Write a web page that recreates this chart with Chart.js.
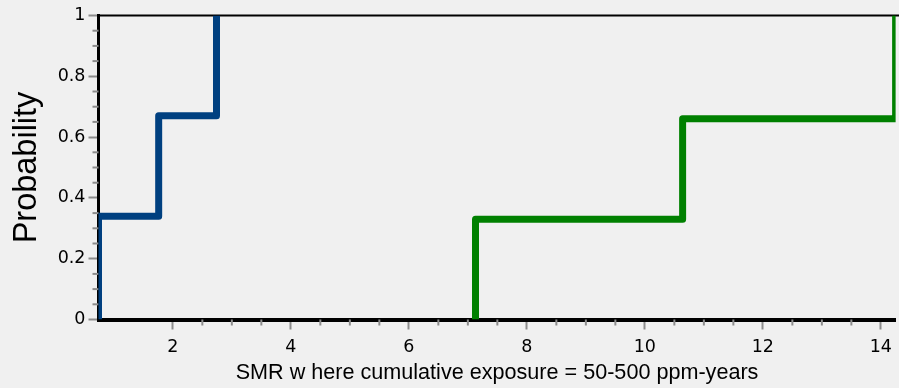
<!DOCTYPE html>
<html>
<head>
<meta charset="utf-8">
<script src="https://cdn.jsdelivr.net/npm/chart.js@4/dist/chart.umd.min.js"></script>
<style>
  html, body { margin: 0; padding: 0; background: #f0f0f0; }
  canvas { display: block; }
</style>
</head>
<body>
<canvas id="c" width="899" height="388"></canvas>
<script>
// Empirical step distributions of the SMR (cumulative probability)
const blueSteps = [0.74, 1.76, 2.74];
const blueProb = [0.34, 0.67, 1.0];
const greenSteps = [7.13, 10.64, 14.25];
const greenProb = [0.33, 0.66, 1.0];

// Axis ticks
const xTickValues = [2, 4, 6, 8, 10, 12, 14];
const yTickValues = [0, 0.2, 0.4, 0.6, 0.8, 1];
const xRange = [0.74, 14.25];
const yRange = [0, 1];

// Turn step positions and cumulative probabilities into a staircase
function staircase(steps, probs) {
  const pts = [{ x: steps[0], y: 0 }];
  for (let i = 0; i < steps.length; i++) {
    const prev = i === 0 ? 0 : probs[i - 1];
    if (i > 0) pts.push({ x: steps[i], y: prev });
    pts.push({ x: steps[i], y: probs[i] });
    if (i < steps.length - 1) pts.push({ x: steps[i + 1], y: probs[i] });
  }
  return pts;
}

const FONT = "'Liberation Sans', Arial, sans-serif";
const TICK_FONT = "'DejaVu Sans', Verdana, sans-serif";
const TICK_GRAY = '#8c8c8c';

// Background, top frame line and minor tick marks
const framePlugin = {
  id: 'frame',
  beforeDraw(chart) {
    const { ctx, width, height } = chart;
    ctx.save();
    ctx.fillStyle = '#f0f0f0';
    ctx.fillRect(0, 0, width, height);
    ctx.restore();
  },
  beforeDatasetsDraw(chart) {
    const { ctx, chartArea, scales } = chart;
    ctx.save();
    ctx.strokeStyle = TICK_GRAY;
    ctx.lineWidth = 2;
    // minor ticks on x: 3 between each pair of major ticks
    for (let i = 0; i < xTickValues.length - 1; i++) {
      const a = xTickValues[i], b = xTickValues[i + 1];
      for (let k = 1; k < 4; k++) {
        const px = scales.x.getPixelForValue(a + (b - a) * k / 4);
        ctx.beginPath();
        ctx.moveTo(px, chartArea.bottom);
        ctx.lineTo(px, chartArea.bottom + 6);
        ctx.stroke();
      }
    }
    // minor ticks on y
    for (let i = 0; i < yTickValues.length - 1; i++) {
      const a = yTickValues[i], b = yTickValues[i + 1];
      for (let k = 1; k < 4; k++) {
        const py = scales.y.getPixelForValue(a + (b - a) * k / 4);
        ctx.beginPath();
        ctx.moveTo(chartArea.left - 6, py);
        ctx.lineTo(chartArea.left, py);
        ctx.stroke();
      }
    }
    // top frame line
    ctx.strokeStyle = '#000';
    ctx.lineWidth = 2;
    ctx.beginPath();
    ctx.moveTo(chartArea.left, chartArea.top);
    ctx.lineTo(chart.width, chartArea.top);
    ctx.stroke();
    ctx.restore();
  }
};

new Chart(document.getElementById('c'), {
  type: 'line',
  data: {
    datasets: [
      {
        data: staircase(blueSteps, blueProb),
        borderColor: '#004080',
        borderWidth: 7,
        borderJoinStyle: 'round',
        pointRadius: 0,
        fill: false,
        clip: 0
      },
      {
        data: staircase(greenSteps, greenProb),
        borderColor: '#008000',
        borderWidth: 7,
        borderJoinStyle: 'round',
        pointRadius: 0,
        fill: false,
        clip: 0
      }
    ]
  },
  options: {
    responsive: false,
    animation: false,
    devicePixelRatio: 1,
    parsing: false,
    layout: { padding: { top: 15.5, right: 0, left: 0, bottom: 0 } },
    plugins: { legend: { display: false }, tooltip: { enabled: false } },
    scales: {
      x: {
        type: 'linear',
        min: xRange[0],
        max: xRange[1],
        afterBuildTicks: s => { s.ticks = xTickValues.map(v => ({ value: v })); },
        afterFit: s => { s.height = 68.5; },
        grid: { display: true, drawOnChartArea: false, drawTicks: true, tickLength: 10, tickColor: TICK_GRAY, tickWidth: 2 },
        border: { display: true, color: '#000', width: 4 },
        ticks: {
          font: { family: TICK_FONT, size: 17.5 },
          color: '#000',
          padding: 7,
          maxRotation: 0,
          autoSkip: false,
          callback: v => String(v)
        },
        title: {
          display: true,
          text: 'SMR w here cumulative exposure = 50-500 ppm-years',
          font: { family: FONT, size: 21.6 },
          color: '#000',
          padding: { top: 0, bottom: 2.2 }
        }
      },
      y: {
        type: 'linear',
        min: yRange[0],
        max: yRange[1],
        afterBuildTicks: s => { s.ticks = yTickValues.map(v => ({ value: v })); },
        afterFit: s => { s.width = 98.5; },
        grid: { display: true, drawOnChartArea: false, drawTicks: true, tickLength: 10, tickColor: TICK_GRAY, tickWidth: 2 },
        border: { display: true, color: '#000', width: 3 },
        ticks: {
          font: { family: TICK_FONT, size: 17.5 },
          color: '#000',
          padding: 3,
          autoSkip: false,
          callback: v => String(v)
        },
        title: {
          display: true,
          text: 'Probability',
          font: { family: FONT, size: 32.5 },
          color: '#000',
          padding: { top: 7.5, bottom: 0 }
        }
      }
    }
  },
  plugins: [framePlugin]
});
</script>
</body>
</html>
